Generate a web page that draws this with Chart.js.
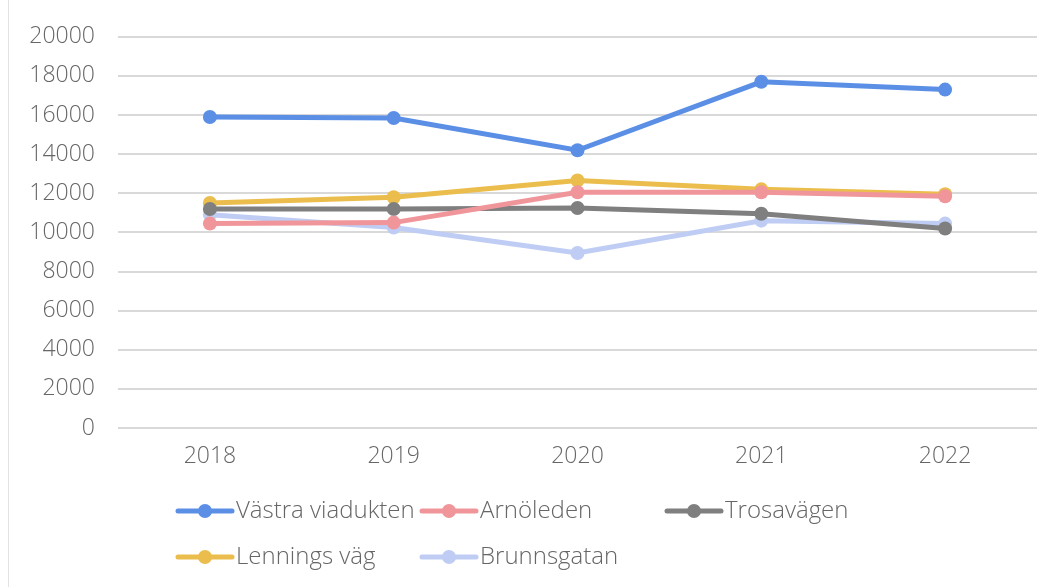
<!DOCTYPE html>
<html>
<head>
<meta charset="utf-8">
<script src="https://cdn.jsdelivr.net/npm/chart.js@4/dist/chart.umd.min.js"></script>
<style>
  html, body { margin: 0; padding: 0; background: #fff; }
  #wrap { position: relative; width: 1059px; height: 587px; }
  #wrap:before { content: ''; position: absolute; left: 8px; top: 0; bottom: 0; border-left: 1px solid #e3e3e3; }
</style>
</head>
<body>
<div id="wrap"><canvas id="chart" width="1059" height="587"></canvas></div>
<script>
// data
const years = ['2018', '2019', '2020', '2021', '2022'];
const vastraViadukten = [15900, 15850, 14200, 17700, 17300];
const arnoleden = [10450, 10500, 12050, 12050, 11850];
const trosavagen = [11200, 11200, 11250, 10950, 10200];
const lenningsVag = [11500, 11800, 12650, 12200, 11950];
const brunnsgatan = [10900, 10250, 8950, 10600, 10450];
const yTicks = [0, 2000, 4000, 6000, 8000, 10000, 12000, 14000, 16000, 18000, 20000];

const seriesNames = ['Västra viadukten', 'Arnöleden', 'Trosavägen', 'Lennings väg', 'Brunnsgatan'];
const seriesData = [vastraViadukten, arnoleden, trosavagen, lenningsVag, brunnsgatan];
const seriesColors = ['#5b8fe6', '#f0969b', '#7f7f7f', '#ebbd4c', '#bfcdf4'];

const textColor = '#666666';
const tickFont = { family: "'Open Sans', sans-serif", size: 23, weight: 300 };

// legend drawn like Excel: line + marker, two rows
const legendSlots = [[176, 511], [420, 511], [665, 511], [176, 557], [420, 557]];
const excelLegend = {
    id: 'excelLegend',
    afterDraw(chart) {
        const ctx = chart.ctx;
        ctx.save();
        ctx.font = "300 24px 'Open Sans', sans-serif";
        ctx.textBaseline = 'middle';
        chart.data.datasets.forEach((ds, i) => {
            const [x, y] = legendSlots[i];
            ctx.strokeStyle = ds.borderColor;
            ctx.lineWidth = 5;
            ctx.lineCap = 'round';
            ctx.beginPath();
            ctx.moveTo(x + 2, y);
            ctx.lineTo(x + 56, y);
            ctx.stroke();
            ctx.fillStyle = ds.borderColor;
            ctx.beginPath();
            ctx.arc(x + 29, y, 7, 0, Math.PI * 2);
            ctx.fill();
            ctx.fillStyle = textColor;
            ctx.fillText(ds.label, x + 60, y);
        });
        ctx.restore();
    }
};

new Chart(document.getElementById('chart'), {
    type: 'line',
    data: {
        labels: years,
        datasets: seriesNames.map((name, i) => ({
            label: name,
            data: seriesData[i],
            borderColor: seriesColors[i],
            backgroundColor: seriesColors[i],
            borderWidth: 5,
            pointRadius: 7,
            pointHoverRadius: 7,
            pointBorderWidth: 0,
            tension: 0,
            fill: false
        }))
    },
    options: {
        responsive: false,
        animation: false,
        layout: { padding: { left: 0, right: 22, top: 31, bottom: 0 } },
        plugins: {
            legend: { display: false },
            tooltip: { enabled: false }
        },
        scales: {
            x: {
                offset: true,
                grid: { display: false, drawTicks: false },
                border: { display: false },
                ticks: { font: tickFont, color: textColor, padding: 15 },
                afterFit(scale) { scale.height = 159; }
            },
            y: {
                min: 0,
                max: 20000,
                afterBuildTicks(scale) { scale.ticks = yTicks.map(v => ({ value: v })); },
                grid: { color: '#d9d9d9', lineWidth: 2, drawTicks: false },
                border: { display: false },
                ticks: { font: tickFont, color: textColor, padding: 23, callback: v => String(v) },
                afterFit(scale) { scale.width = 118; }
            }
        }
    },
    plugins: [excelLegend]
});
</script>
</body>
</html>
